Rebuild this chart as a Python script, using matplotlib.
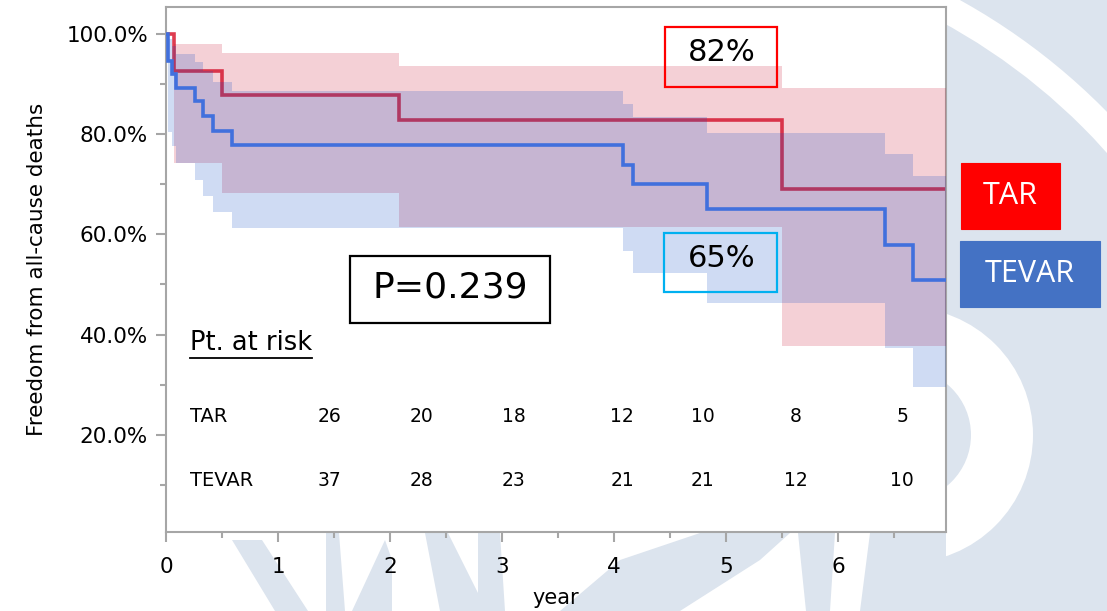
import matplotlib

matplotlib.use("Agg")
import matplotlib.pyplot as plt
from matplotlib.patches import Polygon, Rectangle, Wedge
from matplotlib.ticker import FuncFormatter, MultipleLocator
from matplotlib.transforms import Affine2D

W, H = 1107, 611

# Kaplan-Meier survival (%) with 95% CI, step times in years
t_end = 6.96
tar_t = [0, 0.07, 0.50, 2.08, 5.50]
tar_s = [100, 92.6, 87.8, 82.8, 69.0]
tar_hi = [100, 98.0, 96.1, 93.5, 89.1]
tar_lo = [100, 74.2, 68.2, 61.4, 37.8]

tevar_t = [0, 0.015, 0.05, 0.085, 0.26, 0.33, 0.42, 0.59, 4.08, 4.17, 4.83, 6.42, 6.67]
tevar_s = [100, 94.5, 92.0, 89.2, 86.5, 83.5, 80.5, 77.8, 73.9, 70.0, 65.0, 57.8, 50.8]
tevar_hi = [100, 99.0, 97.5, 96.0, 94.3, 92.5, 90.4, 88.5, 86.0, 83.3, 80.1, 76.0, 71.6]
tevar_lo = [100, 80.4, 77.5, 74.2, 70.9, 67.6, 64.5, 61.3, 56.6, 52.2, 46.3, 37.3, 29.6]

# numbers at risk
risk_x = [1.46, 2.28, 3.10, 4.07, 4.79, 5.62, 6.57]
risk_tar = [26, 20, 18, 12, 10, 8, 5]
risk_tevar = [37, 28, 23, 21, 21, 12, 10]

RED_LINE = "#DE3C50"
BLUE_LINE = "#4170DD"
RED_BAND = (200 / 255, 20 / 255, 50 / 255)
BLUE_BAND = (15 / 255, 75 / 255, 195 / 255)
GRAY = "#A6A6A6"
WM = "#DCE4EE"


def ext(t, v):
    return list(t) + [t_end], list(v) + [v[-1]]


fig = plt.figure(figsize=(W / 100, H / 100), dpi=100)
fig.patch.set_facecolor("white")

# watermark in the slide background (pixel coordinates, y downwards)
px = Affine2D().scale(1 / W, -1 / H).translate(0, 1) + fig.transFigure
bg = [
    Rectangle((946, 0), 161, 611, color=WM, lw=0),
    Wedge((650, 560), 640, 0, 360, width=28, color="white", lw=0),
    Wedge((905, 435), 128, -90, 90, width=62, color="white", lw=0),
    Polygon([(232, 540), (262, 540), (308, 611), (275, 611)], color=WM, lw=0),
    Polygon([(326, 533), (339, 533), (345, 611), (326, 611)], color=WM, lw=0),
    Polygon([(352, 611), (385, 540), (392, 560), (392, 611)], color=WM, lw=0),
    Polygon([(425, 533), (448, 533), (487, 611), (440, 611)], color=WM, lw=0),
    Polygon([(478, 533), (500, 533), (505, 611), (478, 611)], color=WM, lw=0),
    Polygon([(560, 611), (620, 560), (700, 533), (790, 533), (760, 560), (680, 611)], color=WM, lw=0),
    Polygon([(798, 533), (835, 533), (830, 611), (806, 611)], color=WM, lw=0),
    Polygon([(870, 533), (946, 533), (946, 611), (860, 611)], color=WM, lw=0),
]
for p in bg:
    p.set_transform(px)
    p.set_zorder(-5)
    fig.add_artist(p)

ax = fig.add_axes([166 / W, (H - 532) / H, (946 - 166) / W, (532 - 7) / H])
ax.set_facecolor("white")
ax.set_xlim(0, t_end)
ax.set_ylim(0.67, 105.3)

# survival curves and confidence bands
x, y = ext(tar_t, tar_s)
ax.step(x, y, where="post", color=RED_LINE, lw=2.6, zorder=2, solid_joinstyle="miter")
x, lo = ext(tar_t, tar_lo)
_, hi = ext(tar_t, tar_hi)
ax.fill_between(x, lo, hi, step="post", color=RED_BAND, alpha=0.2, lw=0, zorder=3)
x, lo = ext(tevar_t, tevar_lo)
_, hi = ext(tevar_t, tevar_hi)
ax.fill_between(x, lo, hi, step="post", color=BLUE_BAND, alpha=0.2, lw=0, zorder=4)
x, y = ext(tevar_t, tevar_s)
ax.step(x, y, where="post", color=BLUE_LINE, lw=2.6, zorder=5, solid_joinstyle="miter")

# axes styling
for s in ax.spines.values():
    s.set_color(GRAY)
    s.set_linewidth(1.5)
ax.xaxis.set_major_locator(MultipleLocator(1))
ax.xaxis.set_minor_locator(MultipleLocator(0.5))
ax.yaxis.set_major_locator(MultipleLocator(20))
ax.yaxis.set_minor_locator(MultipleLocator(10))
ax.yaxis.set_major_formatter(FuncFormatter(lambda v, _: f"{v:.1f}%"))
ax.tick_params(which="major", length=7, width=1.5, color=GRAY, labelsize=15.5)
ax.tick_params(axis="x", which="major", pad=11)
ax.tick_params(axis="y", which="major", pad=6)
ax.tick_params(which="minor", length=4, width=1.5, color=GRAY)
ax.set_xlabel("year", fontsize=15, labelpad=8)
ax.set_ylabel("Freedom from all-cause deaths", fontsize=15.5, labelpad=14)

# annotations
ax.add_patch(Rectangle((4.455, 89.3), 1.0, 12.0, fill=False, ec="#FF0000", lw=1.6, zorder=6))
ax.text(4.955, 96.3, "82%", fontsize=22, ha="center", va="center", zorder=7)
ax.add_patch(Rectangle((4.446, 48.5), 1.009, 11.8, fill=False, ec="#00B0F0", lw=1.6, zorder=6))
ax.text(4.955, 55.1, "65%", fontsize=22, ha="center", va="center", zorder=7)
ax.add_patch(Rectangle((1.643, 42.3), 1.786, 13.3, fc="white", ec="black", lw=1.6, zorder=6))
ax.text(2.536, 49.3, "P=0.239", fontsize=26, ha="center", va="center", zorder=7)

# number at risk table
risk_head = ax.text(0.214, 38.3, "Pt. at risk", fontsize=18.5, ha="left", va="center", zorder=7)
ax.text(0.214, 23.6, "TAR", fontsize=14, ha="left", va="center")
ax.text(0.214, 10.9, "TEVAR", fontsize=14, ha="left", va="center")
for xi, a, b in zip(risk_x, risk_tar, risk_tevar):
    ax.text(xi, 23.6, str(a), fontsize=13.5, ha="center", va="center")
    ax.text(xi, 10.9, str(b), fontsize=13.5, ha="center", va="center")

fig.canvas.draw()
bb = risk_head.get_window_extent().transformed(ax.transData.inverted())
ax.plot([bb.x0, bb.x1], [bb.y0 - 0.3, bb.y0 - 0.3], color="black", lw=1.3, zorder=7)

# group legend boxes
for (x0, y0, w, h), label, fc in [
    ((961, 163, 99, 66), "TAR", "#FF0000"),
    ((960, 241, 140, 66), "TEVAR", "#4472C4"),
]:
    box = Rectangle((x0, y0), w, h, fc=fc, ec=fc, lw=0.8, transform=px, zorder=5)
    fig.add_artist(box)
    fig.text((x0 + w / 2) / W, 1 - (y0 + h / 2) / H, label, fontsize=22,
             family="Open Sans", color="white", ha="center", va="center", zorder=6)

fig.savefig("out.png", dpi=100)
